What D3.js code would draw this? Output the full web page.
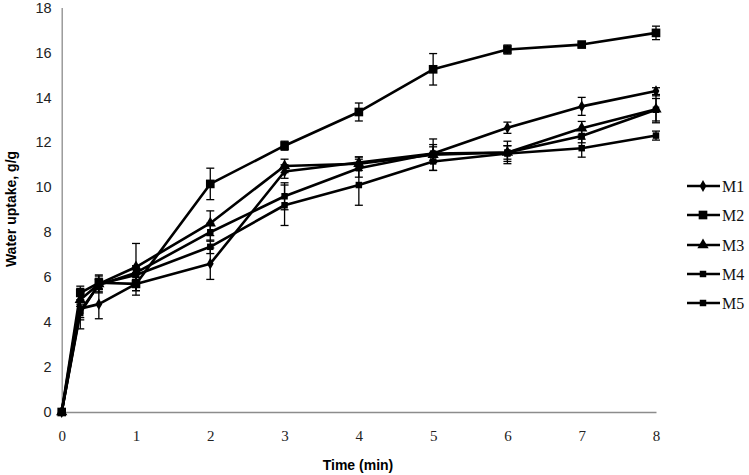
<!DOCTYPE html>
<html><head><meta charset="utf-8">
<script src="https://cdn.jsdelivr.net/npm/d3@7"></script>
<style>body{margin:0;background:#fff}</style>
</head><body><svg id="c" width="749" height="475"></svg>
<script>
const times = [0, 0.25, 0.5, 1, 2, 3, 4, 5, 6, 7, 8];
const seriesNames = ["M1", "M2", "M3", "M4", "M5"];
const markers = ["diamond", "bigsquare", "triangle", "square", "square"];
const M1 = [0, 4.6, 4.8, 5.7, 6.6, 10.7, 11.1, 11.5, 12.65, 13.6, 14.28];
const M2 = [0, 5.3, 5.75, 5.7, 10.15, 11.85, 13.35, 15.25, 16.13, 16.35, 16.87];
const M3 = [0, 5.0, 5.7, 6.45, 8.4, 10.95, 11.05, 11.45, 11.55, 12.63, 13.47];
const M4 = [0, 4.5, 5.65, 6.2, 8.0, 9.6, 10.85, 11.5, 11.55, 12.28, 13.45];
const M5 = [0, 4.4, 5.7, 6.1, 7.35, 9.2, 10.1, 11.15, 11.5, 11.74, 12.3];
const E1 = [0, 0.9, 0.65, 0.5, 0.7, 0.3, 0.25, 0.3, 0.25, 0.4, 0.15];
const E2 = [0, 0.3, 0.3, 0.3, 0.7, 0.2, 0.4, 0.7, 0.2, 0.1, 0.3];
const E3 = [0, 0.3, 0.4, 1.05, 0.55, 0.3, 0.3, 0.7, 0.5, 0.3, 0.6];
const E4 = [0, 0.3, 0.3, 0.3, 0.4, 0.6, 0.4, 0.4, 0.3, 0.3, 0.5];
const E5 = [0, 0.3, 0.2, 0.4, 0.3, 0.9, 0.9, 0.4, 0.35, 0.4, 0.2];
const yTicks = [0, 2, 4, 6, 8, 10, 12, 14, 16, 18];
const xTicks = [0, 1, 2, 3, 4, 5, 6, 7, 8];

const values = [M1, M2, M3, M4, M5];
const errors = [E1, E2, E3, E4, E5];

const svg = d3.select("#c");
const x = d3.scaleLinear().domain([0, 8]).range([61.7, 656]);
const y = d3.scaleLinear().domain([0, 18]).range([412, 7.5]);

// axes
const yAxis = svg.append("g").attr("transform", "translate(61.7,0)")
  .call(d3.axisLeft(y).tickValues(yTicks).tickSize(0).tickPadding(10));
yAxis.select(".domain").attr("stroke", "#8c8c8c").attr("stroke-width", 1.3);
yAxis.selectAll("text").attr("font-family", "Liberation Sans, Arial, sans-serif")
  .attr("font-size", 14.5).attr("fill", "#222");

const xAxis = svg.append("g").attr("transform", "translate(0,412)")
  .call(d3.axisBottom(x).tickValues(xTicks).tickSize(0).tickPadding(18));
xAxis.select(".domain").attr("stroke", "#8c8c8c").attr("stroke-width", 1.3);
xAxis.selectAll("text").attr("font-family", "Liberation Serif, Times New Roman, serif")
  .attr("font-size", 15).attr("fill", "#222");

svg.append("text").attr("x", 358).attr("y", 470).attr("text-anchor", "middle")
  .attr("font-family", "Liberation Sans, Arial, sans-serif").attr("font-weight", "bold")
  .attr("font-size", 14).text("Time (min)");
svg.append("text").attr("transform", "translate(12,209) rotate(-90)").attr("text-anchor", "middle")
  .attr("dominant-baseline", "middle")
  .attr("font-family", "Liberation Sans, Arial, sans-serif").attr("font-weight", "bold")
  .attr("font-size", 14).text("Water uptake, g/g");

function markerPath(kind) {
  if (kind === "diamond") return d3.symbol(d3.symbolDiamond, 40)();
  if (kind === "bigsquare") return d3.symbol(d3.symbolSquare, 75)();
  if (kind === "triangle") return d3.symbol(d3.symbolTriangle, 55)();
  return d3.symbol(d3.symbolSquare, 42)();
}

const line = d3.line().x(d => x(d.t)).y(d => y(d.v));

seriesNames.forEach((name, i) => {
  const pts = times.map((t, j) => ({t, v: values[i][j], e: errors[i][j]}));
  const g = svg.append("g");
  pts.filter(d => d.e > 0).forEach(d => {
    const cx = x(d.t), y1 = y(d.v + d.e), y2 = y(d.v - d.e);
    g.append("line").attr("x1", cx).attr("x2", cx).attr("y1", y1).attr("y2", y2)
      .attr("stroke", "#000").attr("stroke-width", 1.3);
    [y1, y2].forEach(yy => g.append("line").attr("x1", cx - 4).attr("x2", cx + 4)
      .attr("y1", yy).attr("y2", yy).attr("stroke", "#000").attr("stroke-width", 1.3));
  });
  g.append("path").datum(pts).attr("d", line).attr("fill", "none")
    .attr("stroke", "#000").attr("stroke-width", 2.6).attr("stroke-linejoin", "round");
  g.selectAll("path.m").data(pts).enter().append("path").attr("class", "m")
    .attr("d", markerPath(markers[i]))
    .attr("transform", d => `translate(${x(d.t)},${y(d.v)})`).attr("fill", "#000");
});

// legend
const legY = [186, 215, 245, 274, 303];
seriesNames.forEach((name, i) => {
  const g = svg.append("g").attr("transform", `translate(0,${legY[i]})`);
  g.append("line").attr("x1", 687).attr("x2", 720).attr("y1", 0).attr("y2", 0)
    .attr("stroke", "#000").attr("stroke-width", 2.6);
  g.append("path").attr("d", markerPath(markers[i])).attr("transform", "translate(703,0)").attr("fill", "#000");
  g.append("text").attr("x", 722).attr("y", 5.5)
    .attr("font-family", "Liberation Serif, Times New Roman, serif").attr("font-size", 16)
    .attr("fill", "#111").text(name);
});
</script></body></html>
